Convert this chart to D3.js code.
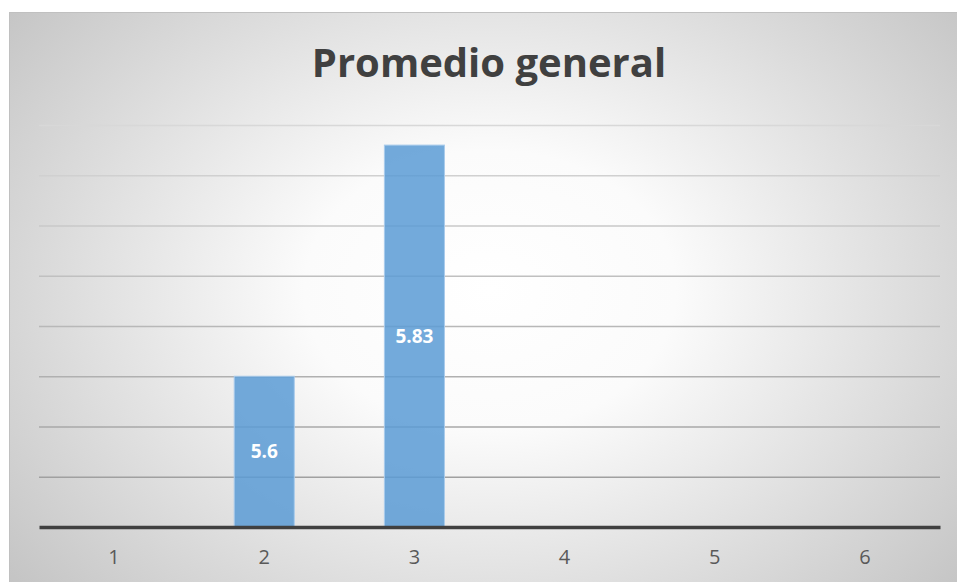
<!DOCTYPE html>
<html><head><meta charset="utf-8">
<script src="https://cdn.jsdelivr.net/npm/d3@7"></script>
<style>html,body{margin:0;padding:0;background:#fff;}svg{display:block;}</style>
</head><body>
<svg id="chart" width="957" height="582"></svg>
<script>
const title = "Promedio general";
const categories = ["1","2","3","4","5","6"];
const values = [null, 5.6, 5.83, null, null, null];
const labels = ["", "5.6", "5.83", "", "", ""];
const yTicks = [5.5, 5.55, 5.6, 5.65, 5.7, 5.75, 5.8, 5.85];
const yMin = 5.45, yMax = 5.85;

const svg = d3.select("#chart");
const W = 957, H = 582;
const m = {left: 39, right: 17, top: 125, bottom: 55};
const FONT = "'Open Sans', Lato, sans-serif";

const defs = svg.append("defs");
const rg = defs.append("radialGradient").attr("id","bg")
  .attr("gradientUnits","userSpaceOnUse")
  .attr("cx", 490).attr("cy", 290).attr("r", 620)
  .attr("gradientTransform","translate(490,290) scale(1,0.75) translate(-490,-290)");
rg.append("stop").attr("offset","0%").attr("stop-color","#ffffff");
rg.append("stop").attr("offset","30%").attr("stop-color","#fbfbfb");
rg.append("stop").attr("offset","100%").attr("stop-color","#c4c4c4");

svg.append("rect").attr("x",9.5).attr("y",12.5).attr("width",W).attr("height",H)
  .attr("fill","url(#bg)").attr("stroke","#c0c0c0");

const x = d3.scaleBand().domain(categories).range([m.left, W - m.right]).paddingInner(0.6).paddingOuter(0.3);
const y = d3.scaleLinear().domain([yMin, yMax]).range([H - m.bottom, m.top]);

const gridCol = d3.scaleLinear().domain([yTicks[0], yTicks[yTicks.length-1]]).range(["#a0a0a0","#d8d8d8"]);
const grid = svg.append("g").attr("class","grid")
  .attr("transform", `translate(${m.left},0)`)
  .call(d3.axisLeft(y).tickValues(yTicks).tickSize(-(W - m.right - m.left)).tickFormat(""));
grid.select(".domain").remove();
grid.selectAll(".tick line").attr("stroke", d => gridCol(d)).attr("stroke-width", 1.5);

const bars = categories.map((c,i)=>({c, v: values[i], l: labels[i]})).filter(d => d.v != null);
svg.append("g").selectAll("rect").data(bars).join("rect")
  .attr("x", d => x(d.c)).attr("width", x.bandwidth())
  .attr("y", d => y(d.v)).attr("height", d => y(yMin) - y(d.v))
  .attr("fill", "#5b9bd5").attr("fill-opacity", 0.85)
  .attr("stroke", "#a9cbec").attr("stroke-width", 1);

svg.append("g").selectAll("text").data(bars).join("text")
  .attr("x", d => x(d.c) + x.bandwidth()/2)
  .attr("y", d => (y(d.v) + y(yMin))/2)
  .attr("dy","0.35em").attr("text-anchor","middle")
  .attr("font-family", FONT).attr("font-weight","bold")
  .attr("font-size", 19).attr("fill","#ffffff")
  .text(d => d.l);

const xa = svg.append("g").attr("transform", `translate(0,${y(yMin)})`)
  .call(d3.axisBottom(x).tickSize(0).tickPadding(23));
xa.select(".domain").attr("stroke","#404040").attr("stroke-width",3.5);
xa.selectAll("text").attr("font-family", FONT).attr("font-size",20).attr("fill","#595959");

svg.append("text").attr("x", 489).attr("y", 77).attr("text-anchor","middle")
  .attr("font-family", FONT).attr("font-weight","bold")
  .attr("font-size", 40).attr("fill","#404040").text(title);
</script>
</body></html>
